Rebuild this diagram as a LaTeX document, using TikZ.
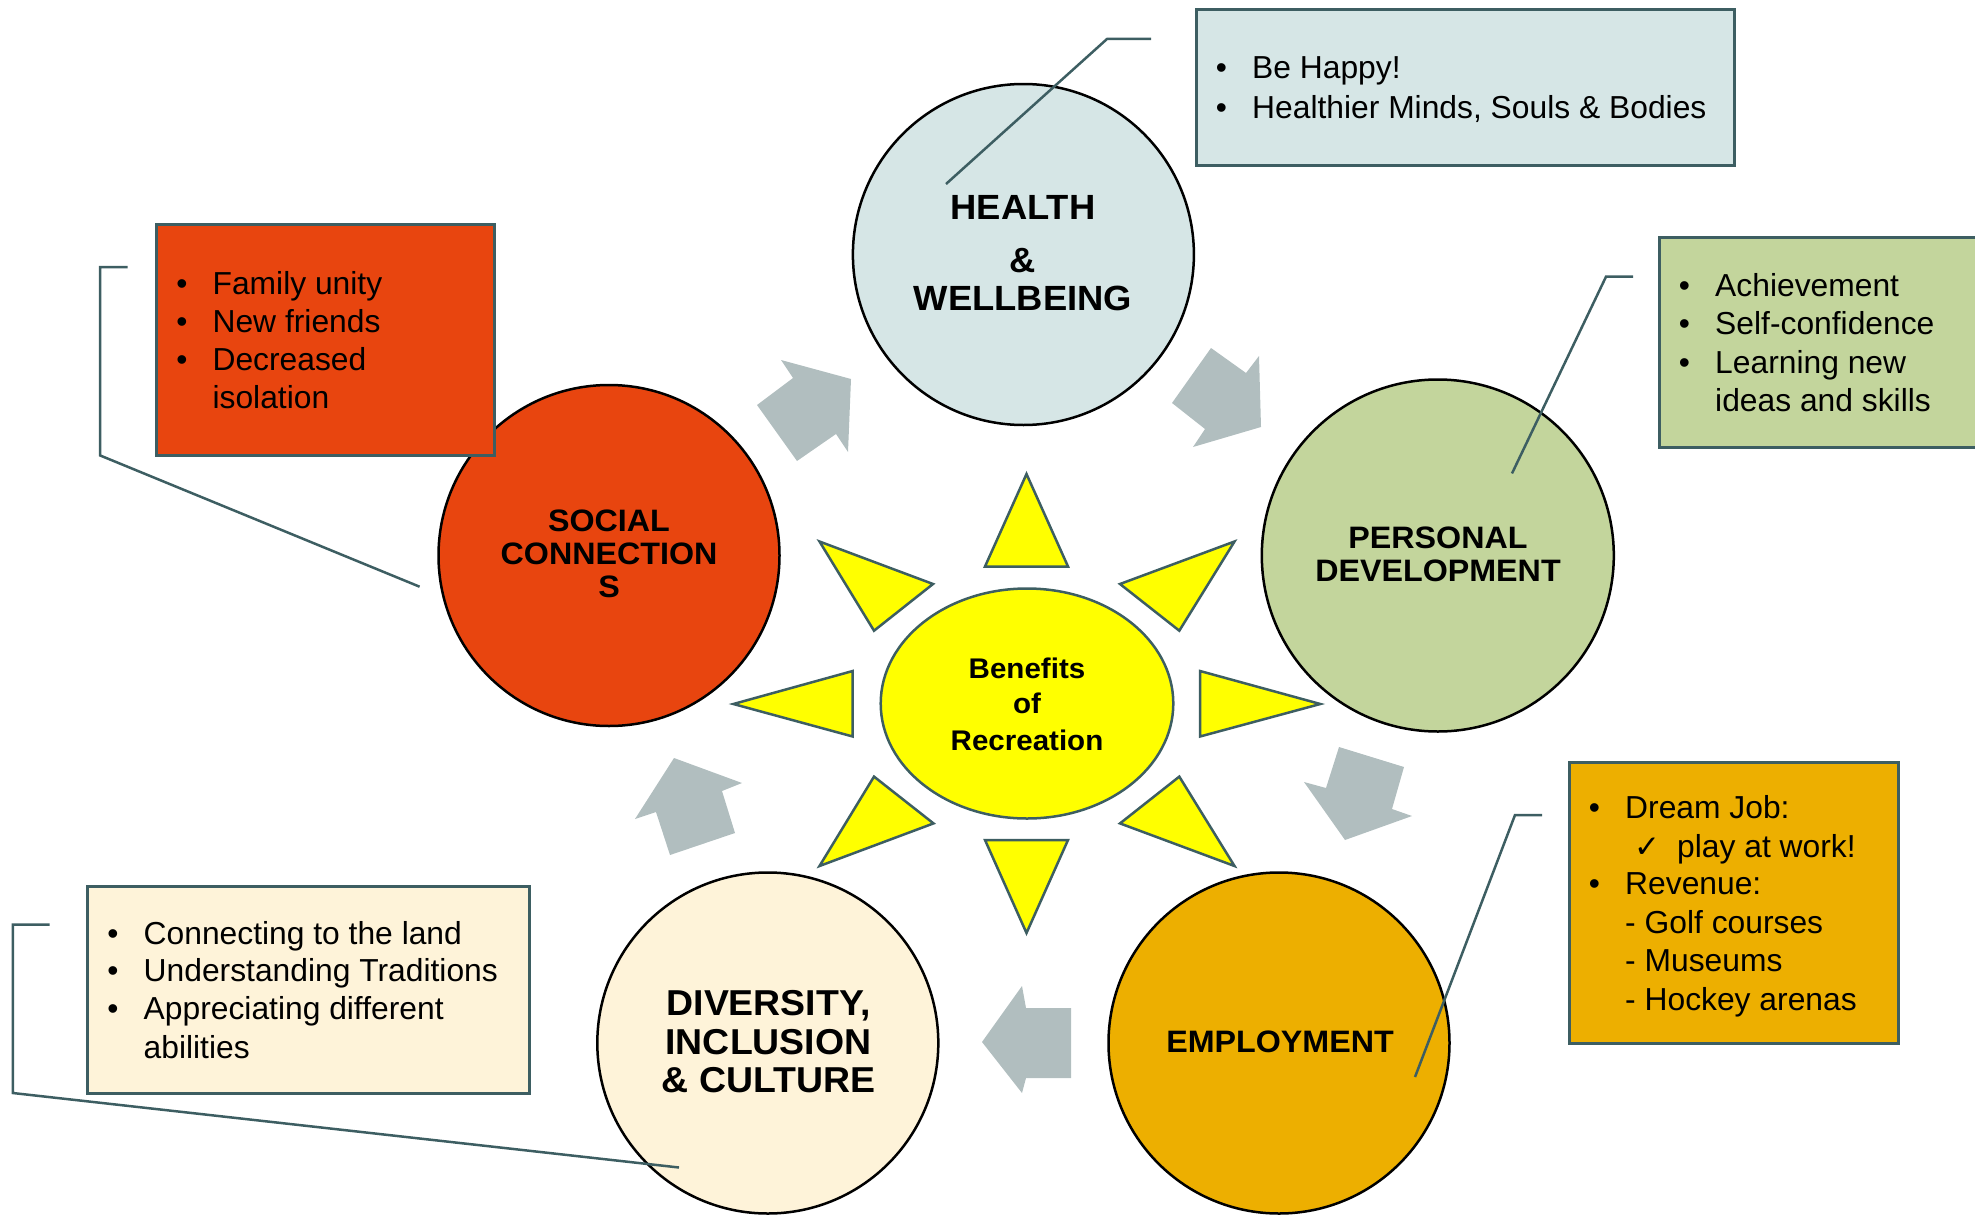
\documentclass[tikz,border=0pt]{standalone}
\usepackage{fontspec}
\setmainfont{Liberation Sans}
\newfontfamily\lblfont[FakeStretch=1.04]{Liberation Sans}
\newfontfamily\symfont{DejaVu Sans}
\usetikzlibrary{shapes.geometric}
\definecolor{healthc}{HTML}{D6E6E6}
\definecolor{socialc}{HTML}{E8450F}
\definecolor{personalc}{HTML}{C3D59C}
\definecolor{employc}{HTML}{EDAF00}
\definecolor{diversc}{HTML}{FEF3D9}
\definecolor{sunc}{HTML}{FFFF00}
\definecolor{boxline}{HTML}{3D5E62}
\definecolor{arrowgray}{HTML}{B1BEBF}
\newcommand\myitem[4]{\node[bul] (#1d) at (#2-30.5,#3) {•};\node[body] (#1) at (#2,#3) {#4};}
\begin{document}
\begin{tikzpicture}[x=1pt,y=-1pt,
  circ/.style={circle, draw=black, line width=2.5pt, inner sep=0pt, outer sep=0pt, minimum size=#1},
  infobox/.style={rectangle, draw=boxline, line width=3pt, inner sep=0pt, outer sep=0pt, anchor=north west},
  ray/.style={fill=sunc, draw=boxline, line width=2.5pt, line join=miter},
  garrow/.style={fill=arrowgray, draw=none},
  leader/.style={draw=boxline, line width=2.5pt},
  body/.style={anchor=base west, inner sep=0pt, font=\fontsize{31.8}{38}\selectfont},
  bul/.style={anchor=base, inner sep=0pt, font=\fontsize{31.8}{38}\selectfont},
  lblA/.style={anchor=base, inner sep=0pt, font=\lblfont\bfseries\fontsize{35}{40}\selectfont},
  lblD/.style={anchor=base, inner sep=0pt, font=\lblfont\bfseries\fontsize{36}{40}\selectfont},
  lblB/.style={anchor=base, inner sep=0pt, font=\lblfont\bfseries\fontsize{31}{36}\selectfont},
  lblC/.style={anchor=base, inner sep=0pt, font=\lblfont\bfseries\fontsize{28.4}{34}\selectfont}]
\useasboundingbox (0,0) rectangle (1975,1215);
\clip (0,0) rectangle (1975,1215);

% circles
\node[circ=341pt, fill=healthc] (health) at (1023.4,254.5) {};
\node[circ=341pt, fill=socialc] (social) at (609,555.5) {};
\node[circ=352pt, fill=personalc] (personal) at (1437.8,555.5) {};
\node[circ=341pt, fill=employc] (employ) at (1279,1043) {};
\node[circ=341pt, fill=diversc] (divers) at (767.8,1043) {};

% centre
\node[ellipse, fill=sunc, draw=boxline, line width=2.5pt, inner sep=0pt, outer sep=0pt,
      minimum width=292.6pt, minimum height=230pt] (core) at (1027,703.5) {};

% rays
\draw[ray] (1026.5,474) -- (1068,566.5) -- (985,566.5) -- cycle;
\draw[ray] (1026.5,933) -- (1068,840) -- (985,840) -- cycle;
\draw[ray] (733.4,704) -- (852.7,671) -- (852.7,736.5) -- cycle;
\draw[ray] (1320.3,704) -- (1200,671) -- (1200,736.5) -- cycle;
\draw[ray] (819.5,541.5) -- (933,584) -- (874,630.7) -- cycle;
\draw[ray] (1234.5,541.5) -- (1120,584) -- (1179.3,630.7) -- cycle;
\draw[ray] (819.5,866) -- (933.5,823.4) -- (874,776.6) -- cycle;
\draw[ray] (1234.5,866) -- (1120,823.4) -- (1179.3,776.6) -- cycle;

% gray block arrows
\fill[garrow] (781,360) -- (851,379) -- (848,452) -- (836,434) -- (797,461) -- (757,405) -- (793,378) -- cycle;
\fill[garrow] (1211,348) -- (1246,373) -- (1259,356) -- (1261,427) -- (1193,447) -- (1205,429) -- (1172,403) -- cycle;
\fill[garrow] (1339,747) -- (1404,767) -- (1392,809) -- (1412,816) -- (1345,840) -- (1304,782) -- (1326,788) -- cycle;
\fill[garrow] (1022,986) -- (1026,1008) -- (1071,1008) -- (1071,1078) -- (1026,1078) -- (1022,1093) -- (982,1042) -- cycle;
\fill[garrow] (674,758) -- (742,783) -- (722,791) -- (735,833) -- (670,855) -- (656,812) -- (635,819) -- cycle;

% info boxes
\node[infobox, fill=healthc, minimum width=538pt, minimum height=155pt] (hbox) at (1196,10) {};
\node[infobox, fill=socialc, minimum width=338pt, minimum height=231pt] (sbox) at (156,224) {};
\node[infobox, fill=personalc, minimum width=340pt, minimum height=210pt] (pbox) at (1659,237) {};
\node[infobox, fill=employc, minimum width=329pt, minimum height=281pt] (ebox) at (1569,762) {};
\node[infobox, fill=diversc, minimum width=442pt, minimum height=207pt] (dbox) at (87,886) {};

% leader lines
\coordinate (h0) at (1151,39); \coordinate (h1) at (1107,39); \coordinate (h2) at (946,184);
\draw[leader] (h0) -- (h1) -- (h2);
\coordinate (s0) at (127.6,267); \coordinate (s1) at (100,267); \coordinate (s2) at (100,455.4); \coordinate (s3) at (419.6,586.7);
\draw[leader] (s0) -- (s1) -- (s2) -- (s3);
\coordinate (p0) at (1633,276.7); \coordinate (p1) at (1606,276.7); \coordinate (p2) at (1512,473.4);
\draw[leader] (p0) -- (p1) -- (p2);
\coordinate (e0) at (1542,815); \coordinate (e1) at (1515,815); \coordinate (e2) at (1415,1077);
\draw[leader] (e0) -- (e1) -- (e2);
\coordinate (d0) at (49.7,924.7); \coordinate (d1) at (12.8,924.7); \coordinate (d2) at (12.8,1093); \coordinate (d3) at (679,1167.5);
\draw[leader] (d0) -- (d1) -- (d2) -- (d3);

% circle labels
\node[lblA] (hl1) at (1023,219) {HEALTH};
\node[lblA] (hl2) at (1023,272.3) {\&};
\node[lblA] (hl3) at (1023,310) {WELLBEING};
\node[lblB] (sl1) at (609,531) {SOCIAL};
\node[lblB] (sl2) at (609,564) {CONNECTION};
\node[lblB] (sl3) at (609,597.3) {S};
\node[lblB] (pl1) at (1438,548) {PERSONAL};
\node[lblB] (pl2) at (1438,581) {DEVELOPMENT};
\node[lblB] (el1) at (1280,1052) {EMPLOYMENT};
\node[lblD] (dl1) at (768.5,1015) {DIVERSITY,};
\node[lblD] (dl2) at (768.5,1054) {INCLUSION};
\node[lblD] (dl3) at (768.5,1092) {\& CULTURE};
\node[lblC] (cl1) at (1027,678) {Benefits};
\node[lblC] (cl2) at (1027,713) {of};
\node[lblC] (cl3) at (1027,750) {Recreation};

% box texts
\myitem{ht1}{1252}{78.5}{Be Happy!}
\myitem{ht2}{1252}{118}{Healthier Minds, Souls \& Bodies}

\myitem{st1}{212.4}{294}{Family unity}
\myitem{st2}{212.4}{332}{New friends}
\myitem{st3}{212.4}{370}{Decreased}
\node[body] (st4) at (212.4,408) {isolation};

\myitem{pt1}{1715}{296.6}{Achievement}
\myitem{pt2}{1715}{334.5}{Self-confidence}
\myitem{pt3}{1715}{373}{Learning new}
\node[body] (pt4) at (1715,411) {ideas and skills};

\myitem{et1}{1625}{818}{Dream Job:}
\node[body] (et2c) at (1634,857) {\symfont\fontsize{31}{32}\selectfont ✓};
\node[body] (et2) at (1677,857) {play at work!};
\myitem{et3}{1625}{894.5}{Revenue:}
\node[body] (et4) at (1625,933) {- Golf courses};
\node[body] (et5) at (1625,971) {- Museums};
\node[body] (et6) at (1625,1010) {- Hockey arenas};

\myitem{dt1}{143.5}{944}{Connecting to the land}
\myitem{dt2}{143.5}{981.5}{Understanding Traditions}
\myitem{dt3}{143.5}{1019.5}{Appreciating different}
\node[body] (dt4) at (143.5,1058) {abilities};
\end{tikzpicture}
\end{document}
